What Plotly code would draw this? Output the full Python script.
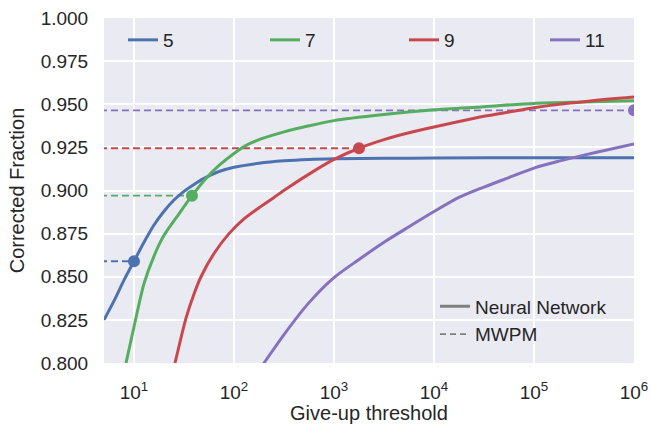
import plotly.graph_objects as go

# ---------------- data ----------------
labels = ["5", "7", "9", "11"]
colors = ["#4C72B0", "#55AD5F", "#C9484E", "#8572BE"]

# give-up thresholds given as log10 exponents, corrected fractions as read
log_threshold_5 = [0.70, 0.80, 0.90, 1.00, 1.10, 1.20, 1.30, 1.40, 1.50, 1.60, 1.70, 1.85,
                   2.00, 2.25, 2.50, 2.75, 3.00, 3.50, 4.00, 5.00, 6.00]
fraction_5 = [0.825, 0.836, 0.848, 0.859, 0.870, 0.880, 0.888, 0.8945, 0.8995, 0.9035, 0.907,
              0.911, 0.9135, 0.9158, 0.9172, 0.918, 0.9184, 0.9187, 0.9188, 0.919, 0.919]

log_threshold_7 = [0.88, 0.92, 1.00, 1.10, 1.20, 1.30, 1.45, 1.58, 1.72, 1.85, 2.00, 2.15,
                   2.30, 2.50, 2.75, 3.00, 3.50, 4.00, 4.50, 5.00, 5.50, 6.00]
fraction_7 = [0.790, 0.800, 0.821, 0.846, 0.862, 0.874, 0.8865, 0.897, 0.907, 0.9145, 0.9215,
              0.927, 0.9305, 0.934, 0.9375, 0.9405, 0.944, 0.9468, 0.9486, 0.9505, 0.9513, 0.952]

log_threshold_9 = [1.38, 1.41, 1.52, 1.60, 1.67, 1.80, 1.95, 2.10, 2.25, 2.40, 2.55, 2.75,
                   3.00, 3.25, 3.50, 3.75, 4.00, 4.25, 4.50, 4.75, 5.00, 5.25, 5.50, 5.75, 6.00]
fraction_9 = [0.793, 0.800, 0.826, 0.840, 0.850, 0.8635, 0.875, 0.8835, 0.890, 0.896, 0.902,
              0.9095, 0.918, 0.9245, 0.9295, 0.9335, 0.9368, 0.940, 0.943, 0.9455, 0.948,
              0.950, 0.9515, 0.953, 0.9542]

log_threshold_11 = [2.25, 2.30, 2.50, 2.75, 3.00, 3.25, 3.50, 3.75, 4.00, 4.25, 4.50,
                    4.75, 5.00, 5.25, 5.50, 5.75, 6.00]
fraction_11 = [0.796, 0.800, 0.8165, 0.835, 0.8495, 0.860, 0.870, 0.879, 0.8878, 0.896,
               0.902, 0.9075, 0.913, 0.917, 0.9205, 0.9238, 0.927]

# MWPM reference values and the give-up threshold at which the network matches them
mwpm_fraction = [0.859, 0.897, 0.9245, 0.9465]
log_match_threshold = [1.00, 1.58, 3.25, 6.00]

x_tickvals = [10, 100, 1000, 1e4, 1e5, 1e6]
x_ticktext = ["10<sup>1</sup>", "10<sup>2</sup>", "10<sup>3</sup>",
              "10<sup>4</sup>", "10<sup>5</sup>", "10<sup>6</sup>"]
y_tickvals = [0.800, 0.825, 0.850, 0.875, 0.900, 0.925, 0.950, 0.975, 1.000]

series_x = [[10 ** v for v in s] for s in
            (log_threshold_5, log_threshold_7, log_threshold_9, log_threshold_11)]
series_y = [fraction_5, fraction_7, fraction_9, fraction_11]
match_threshold = [10 ** v for v in log_match_threshold]

FONT = "Liberation Sans, Arial, sans-serif"
TXT = "#262626"
W, H = 651, 424
ML, MR, MT, MB = 104, 17, 18, 61
PW, PH = W - ML - MR, H - MT - MB
legend_names = ["legend", "legend3", "legend4", "legend5"]
legend_px = [123, 265, 404, 545]

fig = go.Figure()

# dashed MWPM lines
for i in range(4):
    fig.add_trace(go.Scatter(
        x=[1, match_threshold[i]], y=[mwpm_fraction[i], mwpm_fraction[i]],
        mode="lines", line=dict(color=colors[i], width=1.8, dash="7px,4px"),
        showlegend=False, hoverinfo="skip"))

# neural network curves
for i in range(4):
    fig.add_trace(go.Scatter(
        x=series_x[i], y=series_y[i], mode="lines", name=labels[i],
        line=dict(color=colors[i], width=3, shape="spline", smoothing=0.8),
        legend=legend_names[i]))

# match markers
for i in range(4):
    fig.add_trace(go.Scatter(
        x=[match_threshold[i]], y=[mwpm_fraction[i]], mode="markers",
        marker=dict(color=colors[i], size=12), showlegend=False))

# style legend
fig.add_trace(go.Scatter(x=[None], y=[None], mode="lines", name="Neural Network",
                         line=dict(color="#808080", width=3), legend="legend2"))
fig.add_trace(go.Scatter(x=[None], y=[None], mode="lines", name="MWPM",
                         line=dict(color="#808080", width=1.8, dash="6px,4px"),
                         legend="legend2"))

legends = {}
for i, nm in enumerate(legend_names):
    legends[nm] = dict(x=(legend_px[i] - ML) / PW, y=1 - (21 - MT) / PH,
                       xanchor="left", yanchor="top",
                       bgcolor="rgba(0,0,0,0)", font=dict(size=19, color=TXT))

fig.update_layout(
    width=W, height=H,
    margin=dict(l=ML, r=MR, t=MT, b=MB, autoexpand=False),
    paper_bgcolor="white", plot_bgcolor="#EAEAF2",
    font=dict(family=FONT, color=TXT, size=18),
    legend2=dict(x=(435 - ML) / PW, y=1 - (287.5 - MT) / PH,
                 xanchor="left", yanchor="top",
                 bgcolor="rgba(0,0,0,0)", font=dict(size=19, color=TXT), tracegroupgap=0),
    xaxis=dict(type="log", range=[0.70, 6.0], tickvals=x_tickvals, ticktext=x_ticktext,
               showgrid=True, gridcolor="white", gridwidth=1.6, zeroline=False,
               ticks="outside", ticklen=12, tickcolor="rgba(0,0,0,0)",
               tickfont=dict(size=19, color=TXT),
               title=dict(text="Give-up threshold", font=dict(size=20, color=TXT), standoff=6),
               showline=False),
    yaxis=dict(range=[0.8, 1.0], tickvals=y_tickvals, tickformat=".3f",
               showgrid=True, gridcolor="white", gridwidth=1.6, zeroline=False,
               ticks="outside", ticklen=11, tickcolor="rgba(0,0,0,0)",
               tickfont=dict(size=19, color=TXT),
               title=dict(text="Corrected Fraction", font=dict(size=20, color=TXT), standoff=10),
               showline=False),
    **legends,
)

fig.write_html("out.html", config={"displayModeBar": False},
               post_script="document.body.style.margin='0';document.body.style.padding='0';")
